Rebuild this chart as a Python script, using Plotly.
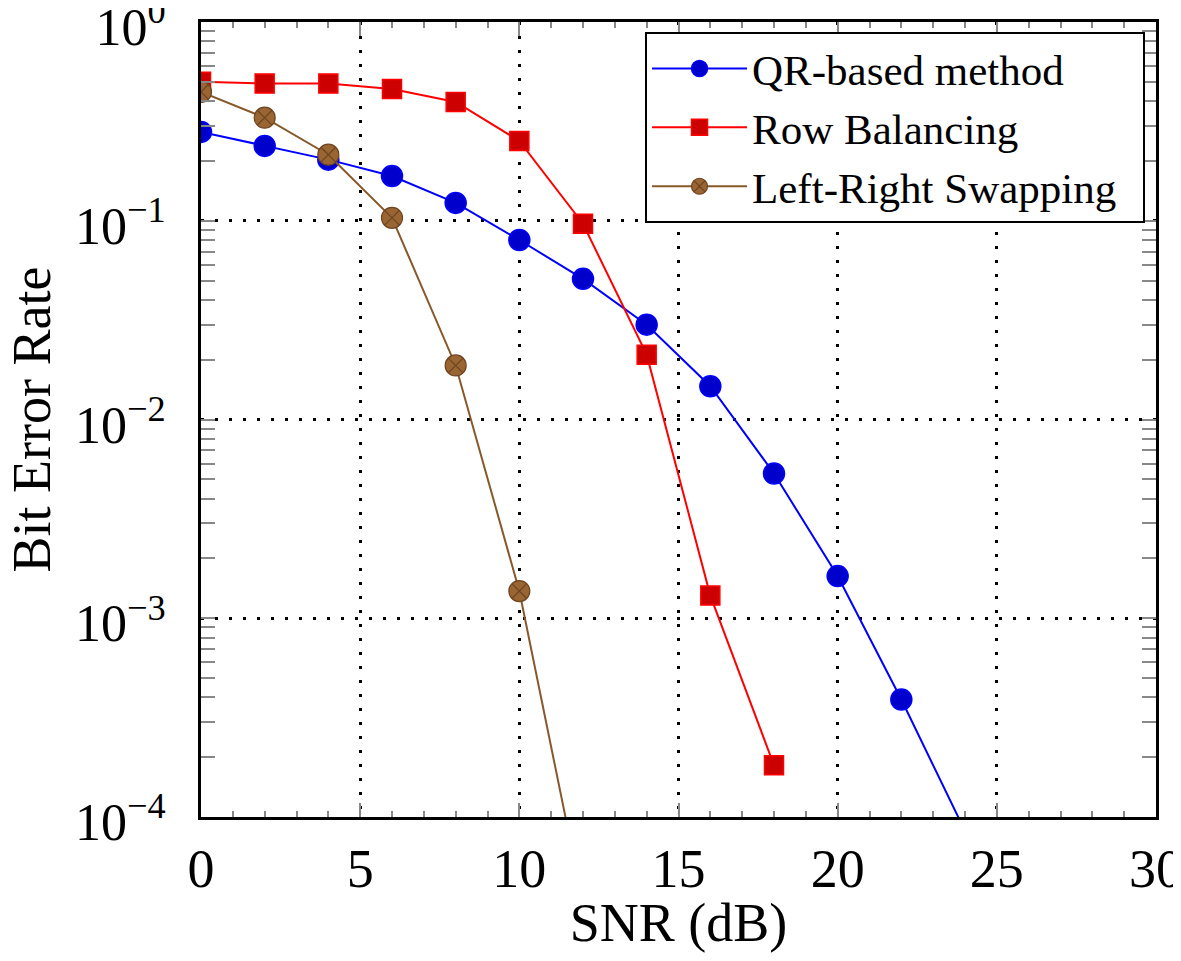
import plotly.graph_objects as go

snr = [0, 2, 4, 6, 8, 10, 12, 14, 16, 18, 20, 22, 24]
ber_qr = [0.28, 0.238, 0.203, 0.168, 0.123, 0.080, 0.051, 0.030, 0.0147, 0.00535, 0.00163, 3.9e-4, 8.5e-5]
snr_rb = [0, 2, 4, 6, 8, 10, 12, 14, 16, 18]
ber_rb = [0.50, 0.49, 0.49, 0.46, 0.396, 0.252, 0.0966, 0.0212, 0.0013, 1.82e-4]
snr_lr = [0, 2, 4, 6, 8, 10, 12]
ber_lr = [0.445, 0.33, 0.215, 0.1035, 0.0187, 0.00137, 3.7e-5]

x_ticks = [0, 5, 10, 15, 20, 25, 30]
y_ticks = [1e-4, 1e-3, 1e-2, 1e-1, 1]
y_ticktext = ["10<sup>−4</sup>", "10<sup>−3</sup>", "10<sup>−2</sup>", "10<sup>−1</sup>", "10<sup>0</sup>"]

FONT = "Liberation Serif"
PAD = "\u00a0\u00a0"

fig = go.Figure()
fig.add_trace(go.Scatter(
    x=snr, y=ber_qr, name="QR-based method" + PAD, mode="lines+markers",
    line=dict(color="#0000ff", width=2),
    marker=dict(symbol="circle", size=21, color="#0000cc", line=dict(color="#0000ff", width=1.5)),
    cliponaxis=True,
))
fig.add_trace(go.Scatter(
    x=snr_rb, y=ber_rb, name="Row Balancing" + PAD, mode="lines+markers",
    line=dict(color="#ff0000", width=2),
    marker=dict(symbol="square", size=19, color="#cc0000", line=dict(color="#ff0000", width=1.5)),
    cliponaxis=True,
))
fig.add_trace(go.Scatter(
    x=snr_lr, y=ber_lr, name="Left-Right Swapping" + PAD, mode="lines+markers",
    line=dict(color="#87582b", width=2),
    marker=dict(symbol="circle-x", size=21, color="#996633", line=dict(color="#6e4420", width=1.2)),
    cliponaxis=True,
))

minor_y = [k * 10.0 ** e for e in range(-4, 0) for k in range(2, 10)]

fig.update_layout(
    width=1165, height=945,
    margin=dict(l=193, r=17, t=14, b=136, autoexpand=False),
    paper_bgcolor="white", plot_bgcolor="white",
    font=dict(family=FONT, color="black", size=50),
    showlegend=True,
    legend=dict(
        x=0.9885, y=0.9874, xanchor="right", yanchor="top",
        bgcolor="white", bordercolor="black", borderwidth=2,
        font=dict(family=FONT, size=43, color="black"),
        itemwidth=95, tracegroupgap=0,
    ),
    annotations=[dict(
        text="Bit Error Rate", textangle=-90, showarrow=False,
        xref="paper", yref="paper", x=-0.178, y=0.5,
        xanchor="center", yanchor="middle",
        font=dict(family=FONT, size=54, color="black"),
    )],
)
fig.update_xaxes(
    range=[0, 30.0001], tickvals=x_ticks, ticktext=[str(v) for v in x_ticks],
    showline=True, linecolor="black", linewidth=3, mirror="allticks",
    ticks="inside", ticklen=14, tickcolor="#888888", tickwidth=1.5,
    minor=dict(ticks="inside", ticklen=6, tickcolor="#888888", dtick=1, showgrid=False),
    showgrid=True, gridcolor="black", griddash="3px,11px", gridwidth=2.5,
    tickfont=dict(family=FONT, size=54), zeroline=False, automargin=True,
    ticklabelstandoff=2, ticklabeloverflow="allow",
    title=dict(text="SNR (dB)", font=dict(family=FONT, size=54), standoff=19),
)
fig.update_yaxes(
    type="log", range=[-4, 0.00001], tickvals=y_ticks, ticktext=y_ticktext,
    showline=True, linecolor="black", linewidth=3, mirror="allticks",
    ticks="inside", ticklen=14, tickcolor="#888888", tickwidth=1.5,
    minor=dict(ticks="inside", ticklen=14, tickcolor="#888888", tickvals=minor_y, showgrid=False),
    showgrid=True, gridcolor="black", griddash="3px,11px", gridwidth=2.5,
    tickfont=dict(family=FONT, size=52), zeroline=False, automargin=True,
    ticklabelstandoff=22, ticklabelshift=5, ticklabeloverflow="allow",
)

fig.write_html("out.html")
